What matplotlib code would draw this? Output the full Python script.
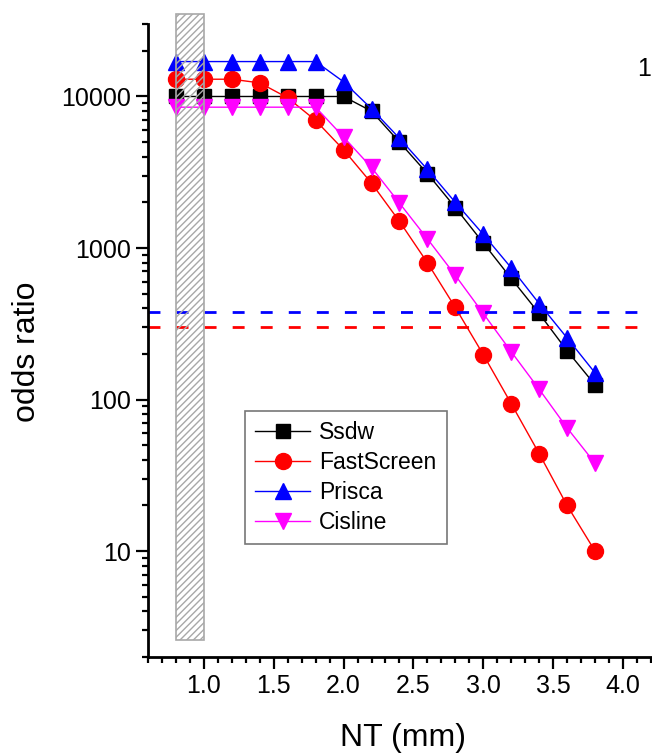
import matplotlib
matplotlib.use("Agg")
import matplotlib.pyplot as plt
from matplotlib.patches import Rectangle
from matplotlib.ticker import MultipleLocator, LogLocator, NullFormatter, FixedLocator

plt.rcParams["font.family"] = ["Liberation Sans", "DejaVu Sans"]
plt.rcParams["hatch.color"] = "#b0b0b0"

# NT thickness (mm)
nt = [0.8, 1.0, 1.2, 1.4, 1.6, 1.8, 2.0, 2.2, 2.4, 2.6, 2.8, 3.0, 3.2, 3.4, 3.6, 3.8]

# odds ratio per screening program
ssdw = [10000, 10000, 10000, 10000, 10000, 10000, 10000, 8000, 5000, 3100, 1850, 1080, 630, 370, 210, 125]
fastscreen = [13000, 13000, 13000, 12300, 9800, 6950, 4450, 2680, 1500, 800, 405, 198, 94, 44, 20, 10]
prisca = [17000, 17000, 17000, 17000, 17000, 17000, 12500, 8300, 5300, 3300, 2000, 1230, 740, 430, 255, 150]
cisline = [8500, 8500, 8500, 8500, 8500, 8500, 5400, 3400, 1980, 1150, 660, 370, 207, 117, 65, 38]

# cut-off odds ratios (dashed)
cutoff_blue = 380
cutoff_red = 300

# shaded NT band
band_x = (0.8, 1.0)
band_y = (2.6, 35000)

fig = plt.figure(figsize=(6.52, 7.56), dpi=100)
ax = fig.add_axes([0.227, 0.131, 0.782, 0.837])

ax.plot(nt, ssdw, "-s", color="black", lw=1, ms=10, label="Ssdw")
ax.plot(nt, fastscreen, "-o", color="red", lw=1, ms=11.5, label="FastScreen")
ax.plot(nt, prisca, "-^", color="blue", lw=1, ms=12, label="Prisca")
ax.plot(nt, cisline, "-v", color="magenta", lw=1, ms=12, label="Cisline")

ax.axhline(cutoff_blue, color="blue", lw=2, dashes=[4.3, 5.8])
ax.axhline(cutoff_red, color="red", lw=2, dashes=[4.3, 5.8])

# hatched band drawn over the markers, allowed to poke above the axis
rect = Rectangle((band_x[0], band_y[0]), band_x[1] - band_x[0], band_y[1] - band_y[0],
                 facecolor="none", edgecolor="#a8a8a8", hatch="/////", lw=1.2,
                 clip_on=False, zorder=5)
ax.add_patch(rect)

ax.set_yscale("log")
ax.set_xlim(0.6, 4.25)
ax.set_ylim(2, 30000)

ax.xaxis.set_major_locator(FixedLocator([1.0, 1.5, 2.0, 2.5, 3.0, 3.5, 4.0]))
ax.xaxis.set_minor_locator(MultipleLocator(0.1))
ax.set_xticklabels(["1.0", "1.5", "2.0", "2.5", "3.0", "3.5", "4.0"])
ax.yaxis.set_major_locator(FixedLocator([10, 100, 1000, 10000]))
ax.set_yticklabels(["10", "100", "1000", "10000"])
ax.yaxis.set_minor_locator(LogLocator(base=10, subs=range(2, 10)))
ax.yaxis.set_minor_formatter(NullFormatter())

for s in ["top", "right"]:
    ax.spines[s].set_visible(False)
for s in ["left", "bottom"]:
    ax.spines[s].set_linewidth(2)

ax.tick_params(which="major", direction="out", length=8.5, width=1.6, labelsize=18, pad=4)
ax.tick_params(which="minor", direction="out", length=4.5, width=1.6)

ax.set_xlabel("NT (mm)", fontsize=23, labelpad=18)
ax.set_ylabel("odds ratio", fontsize=23)
ax.yaxis.set_label_coords(-0.208, 0.483)

leg = ax.legend(loc="lower left", bbox_to_anchor=(0.19, 0.1785), fontsize=16.5,
                frameon=True, fancybox=False, edgecolor="#555555",
                handlelength=2.4, handletextpad=0.4, labelspacing=0.3,
                borderpad=0.45, borderaxespad=0)
leg.get_frame().set_linewidth(1.2)

fig.text(637 / 652, 1 - 76 / 756, "1", fontsize=18, ha="left", va="baseline")

fig.savefig("out.png", dpi=100)
